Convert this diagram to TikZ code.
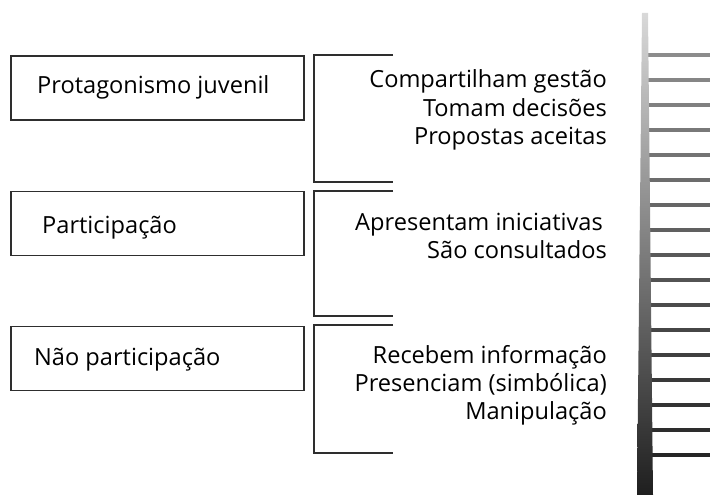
\documentclass[tikz,border=0pt]{standalone}
\usepackage{fontspec}
\setmainfont{Open Sans}
\begin{document}
\begin{tikzpicture}[x=1pt,y=-1pt,
  levelbox/.style={draw=black!82, line width=1.6pt, minimum width=293pt, minimum height=64pt, inner sep=0pt},
  leveltext/.style={anchor=base west, inner sep=0pt, font=\fontsize{23.6}{28}\selectfont},
  itemtext/.style={anchor=base east, inner sep=0pt, font=\fontsize{23.6}{28}\selectfont},
  brack/.style={draw=black!82, line width=1.6pt},
  rung/.style={line width=4pt}]
\useasboundingbox (0,0) rectangle (710,495);
% boxes
\node[levelbox] (b1) at (157.5,88) {};
\node[levelbox] (b2) at (157.5,223.5) {};
\node[levelbox] (b3) at (157.5,358.5) {};
\node[leveltext] (t1) at (37,93) {Protagonismo juvenil};
\node[leveltext] (t2) at (42,233) {Participação};
\node[leveltext] (t3) at (34,365) {Não participação};
% brackets
\coordinate (k1a) at (393,55); \coordinate (k1b) at (393,182);
\coordinate (k2a) at (393,191); \coordinate (k2b) at (393,316);
\coordinate (k3a) at (393,325); \coordinate (k3b) at (393,453);
\draw[brack] (k1a) -- (314,55) -- (314,182) -- (k1b);
\draw[brack] (k2a) -- (314,191) -- (314,316) -- (k2b);
\draw[brack] (k3a) -- (314,325) -- (314,453) -- (k3b);
% items
\node[itemtext] (i11) at (607,88) {Compartilham gestão};
\node[itemtext] (i12) at (607,116.3) {Tomam decisões};
\node[itemtext] (i13) at (607,144.6) {Propostas aceitas};
\node[itemtext] (i21) at (603,230) {Apresentam iniciativas};
\node[itemtext] (i22) at (607,258.3) {São consultados};
\node[itemtext] (i31) at (607,363) {Recebem informação};
\node[itemtext] (i32) at (607,391.3) {Presenciam (simbólica)};
\node[itemtext] (i33) at (607,419.6) {Manipulação};
% ladder
\foreach \k in {0,...,16}{
  \pgfmathsetmacro\c{45+40*\k/16}
  \draw[rung, draw=black!\c] (645,55+25*\k) -- (710,55+25*\k);
}
\shade[top color=black!15, middle color=black!72, bottom color=black!88]
  (642,13) -- (648,13) -- (653,495) -- (637,495) -- cycle;
\end{tikzpicture}
\end{document}
